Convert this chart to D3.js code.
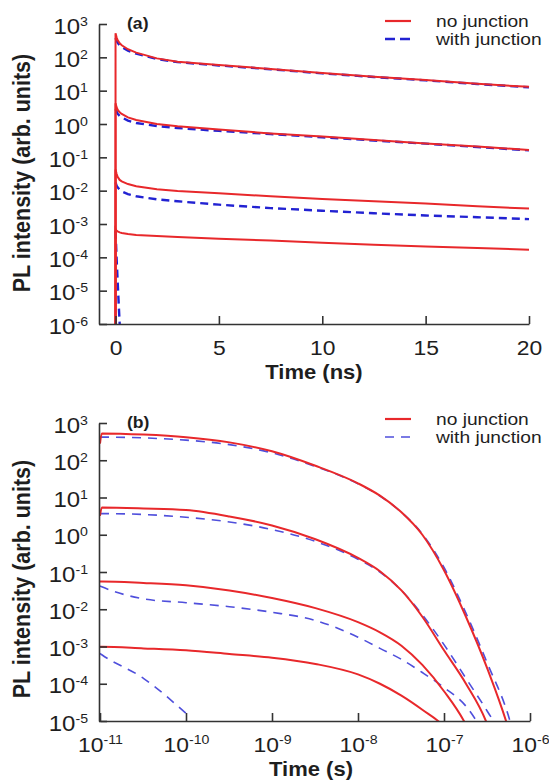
<!DOCTYPE html>
<html>
<head>
<meta charset="utf-8">
<script src="https://cdn.jsdelivr.net/npm/d3@7"></script>
<style>
  body { margin: 0; background: #fff; }
  svg { display: block; font-family: "Liberation Sans", Arial, sans-serif; }
</style>
</head>
<body>
<div id="chart"></div>
<script>
const width = 549;
const height = 783;

// panel (a): time in ns, linear axis
const timesA = [0, 0, 0.05, 0.1, 0.2, 0.3, 0.6, 1, 2, 3, 5, 7.5, 10, 12.5, 15, 17.5, 20];
const noJunctionA = [
  [1e-7, 525, 400, 330, 265, 230, 175, 138, 93, 74, 59, 45, 34, 26, 21, 16, 13],
  [1e-7, 4.2, 3.2, 2.7, 2.24, 2.0, 1.58, 1.32, 1.0, 0.85, 0.68, 0.52, 0.42, 0.33, 0.26, 0.21, 0.166],
  [1e-7, 4.3e-2, 3.2e-2, 2.6e-2, 2.1e-2, 1.9e-2, 1.58e-2, 1.35e-2, 1.1e-2, 9.8e-3, 8.3e-3, 6.8e-3, 5.6e-3, 4.8e-3, 4.1e-3, 3.4e-3, 2.9e-3],
  [1e-7, 7.1e-4, 6.3e-4, 6.0e-4, 5.6e-4, 5.4e-4, 5.0e-4, 4.7e-4, 4.4e-4, 4.1e-4, 3.6e-4, 3.2e-4, 2.75e-4, 2.4e-4, 2.1e-4, 1.9e-4, 1.7e-4]
];
const withJunctionA = [
  [null, 380, 316, 275, 229, 204, 158, 129, 89, 72, 57, 44, 33, 25.7, 20.4, 15.8, 12.6],
  [null, 2.8, 2.35, 2.04, 1.74, 1.58, 1.26, 1.07, 0.87, 0.76, 0.62, 0.5, 0.4, 0.32, 0.257, 0.204, 0.162],
  [null, 1.78e-2, 1.41e-2, 1.26e-2, 1.07e-2, 9.5e-3, 7.9e-3, 6.8e-3, 5.5e-3, 4.8e-3, 3.8e-3, 3.0e-3, 2.5e-3, 2.1e-3, 1.8e-3, 1.6e-3, 1.4e-3],
  [null, 6.3e-4, 1e-4, 2e-5, 1e-6, 1e-7, null, null, null, null, null, null, null, null, null, null, null]
];

// panel (b): time in s, log axis
const timesB = [1e-11, 1.05e-11, 3.2e-11, 1e-10, 3.2e-10, 1e-9, 3.2e-9, 1e-8, 1.8e-8, 3.2e-8, 5.6e-8, 1e-7, 1.8e-7, 3.2e-7, 5.6e-7, 1e-6];
const noJunctionB = [
  [280, 525, 490, 417, 302, 174, 71, 24, 11.2, 4.0, 1.0, 0.112, 6.3e-3, 2.5e-4, 6.3e-6, 3.2e-8],
  [3.2, 5.4, 5.1, 4.6, 3.1, 1.78, 0.76, 0.24, 0.105, 0.032, 6.3e-3, 7.9e-4, 1e-4, 7.9e-6, 1e-7, null],
  [0.056, 0.056, 0.051, 0.044, 0.032, 0.02, 0.0107, 4.5e-3, 2.4e-3, 1.05e-3, 3.2e-4, 6.3e-5, 7.9e-6, 3.2e-7, null, null],
  [9.8e-4, 9.8e-4, 8.9e-4, 7.9e-4, 6.3e-4, 5.0e-4, 3.4e-4, 1.78e-4, 1.0e-4, 4.8e-5, 2.0e-5, 7.1e-6, 1e-6, null, null, null]
];
const withJunctionB = [
  [417, 417, 398, 347, 263, 158, 68, 23.4, 11, 4.0, 1.05, 0.132, 7.9e-3, 3.5e-4, 1.4e-5, 6.3e-8],
  [3.7, 3.7, 3.5, 2.95, 2.2, 1.38, 0.66, 0.22, 0.1, 0.032, 7.1e-3, 1.12e-3, 1.4e-4, 1.8e-5, 2e-6, 3.2e-8],
  [0.042, 0.040, 0.019, 0.015, 0.0117, 8.3e-3, 5.0e-3, 1.78e-3, 8.9e-4, 4.5e-4, 2.0e-4, 7.9e-5, 2.5e-5, 3.2e-6, null, null],
  [6.5e-4, 6.0e-4, 1.4e-4, 1.6e-5, null, null, null, null, null, null, null, null, null, null, null, null]
];

// axis ticks and labels
const xTicksA = [0, 5, 10, 15, 20];
const yExpA = [3, 2, 1, 0, -1, -2, -3, -4, -5, -6];
const xExpB = [-11, -10, -9, -8, -7, -6];
const yExpB = [3, 2, 1, 0, -1, -2, -3, -4, -5];
const legendLabels = ["no junction", "with junction"];
const panelLabels = ["(a)", "(b)"];
const xTitles = ["Time (ns)", "Time (s)"];
const yTitle = "PL intensity (arb. units)";

const axisColor = "#333";
const textColor = "#1e1e1e";
const red = "#e8282b";
const stretch = "scale(1.09,1)";

const svg = d3.select("#chart").append("svg")
  .attr("width", width)
  .attr("height", height);

function power(sel, exp, supDy) {
  sel.text(null);
  sel.append("tspan").text("10");
  sel.append("tspan").attr("dy", supDy).attr("font-size", 13).text(exp);
}

function styleAxis(g) {
  g.attr("font-family", null).attr("font-size", null);
  g.select(".domain").attr("stroke", axisColor).attr("stroke-width", 1.6);
  g.selectAll(".tick line").attr("stroke", axisColor).attr("stroke-width", 1.6);
  g.selectAll(".tick text").attr("x", null).attr("y", null).attr("dy", null)
    .attr("fill", textColor);
}

function drawLines(g, x, y, times, series, color, lw, dash, curve, clipId) {
  const line = d3.line()
    .defined((d) => d[1] != null)
    .x((d) => x(d[0]))
    .y((d) => y(d[1]))
    .curve(curve);
  g.append("g")
    .attr("clip-path", `url(#${clipId})`)
    .selectAll("path")
    .data(series)
    .join("path")
    .attr("d", (s) => line(s.map((v, i) => [times[i], v])))
    .attr("fill", "none")
    .attr("stroke", color)
    .attr("stroke-width", lw)
    .attr("stroke-dasharray", dash);
}

function legend(lx, ly, textY, blue, blueW, blueDash) {
  const g = svg.append("g");
  g.append("line").attr("x1", lx).attr("x2", lx + 26).attr("y1", ly[0]).attr("y2", ly[0])
    .attr("stroke", red).attr("stroke-width", 2.2);
  g.append("line").attr("x1", lx).attr("x2", lx + 26).attr("y1", ly[1]).attr("y2", ly[1])
    .attr("stroke", blue).attr("stroke-width", blueW).attr("stroke-dasharray", blueDash);
  g.selectAll("text").data(legendLabels).join("text")
    .attr("transform", (d, i) => `translate(${lx + 51},${textY[i]}) scale(1.2,1)`)
    .attr("font-size", 16)
    .attr("fill", textColor)
    .text((d) => d);
}

function panel(p) {
  const g = svg.append("g");
  const [y0, y1] = p.y.range();
  const clipId = "clip" + p.idx;
  svg.append("clipPath").attr("id", clipId)
    .append("rect")
    .attr("x", 99).attr("y", y1 - 12)
    .attr("width", 433).attr("height", y0 - y1 + 12);

  // curves
  drawLines(g, p.x, p.y, p.times, p.withJ, p.blue, p.blueW, p.blueDash, p.curve, clipId);
  drawLines(g, p.x, p.y, p.times, p.noJ, red, 2, null, p.curve, clipId);

  // y axis, ticks pointing inward
  const gy = g.append("g")
    .attr("transform", "translate(99,0)")
    .call(d3.axisLeft(p.y).tickValues(p.yExp.map((e) => Math.pow(10, e)))
      .tickSizeInner(-8).tickSizeOuter(0));
  styleAxis(gy);
  gy.selectAll(".tick text")
    .attr("font-size", 22)
    .attr("text-anchor", "end")
    .attr("transform", "translate(-11,9) " + stretch)
    .each(function (d, i) { power(d3.select(this), String(p.yExp[i]), -8); });

  // x axis
  const gx = g.append("g")
    .attr("transform", `translate(0,${y0})`)
    .call(d3.axisBottom(p.x).tickValues(p.xTicks).tickSizeInner(-8).tickSizeOuter(0));
  styleAxis(gx);
  gx.selectAll(".tick text")
    .attr("font-size", 21)
    .attr("text-anchor", "middle")
    .attr("transform", "translate(0,31) " + stretch);
  if (p.xExp) {
    gx.selectAll(".tick text")
      .each(function (d, i) { power(d3.select(this), String(p.xExp[i]), -8); });
  }

  // titles
  g.append("text")
    .attr("transform", `translate(${p.xTitleX},${y0 + 55}) scale(1.1,1)`)
    .attr("text-anchor", "middle")
    .attr("font-size", 20)
    .attr("font-weight", "bold")
    .attr("fill", textColor)
    .text(xTitles[p.idx]);
  g.append("text")
    .attr("transform", `translate(30,${p.yTitleY}) rotate(-90) scale(1,1.1)`)
    .attr("text-anchor", "middle")
    .attr("font-size", 21.5)
    .attr("font-weight", "bold")
    .attr("fill", textColor)
    .text(yTitle);
  g.append("text")
    .attr("transform", `translate(127,${y1 + 5}) scale(1.1,1)`)
    .attr("font-size", 16)
    .attr("font-weight", "bold")
    .attr("fill", textColor)
    .text(panelLabels[p.idx]);
}

const xA = d3.scaleLinear().domain([-0.8, 20]).range([99, 529]);
const yA = d3.scaleLog().domain([1e-6, 1e3]).range([324, 24]);
const xB = d3.scaleLog().domain([1e-11, 1e-6]).range([100, 530]);
const yB = d3.scaleLog().domain([1e-5, 1e3]).range([721, 423]);

panel({
  idx: 0, x: xA, y: yA, times: timesA, noJ: noJunctionA, withJ: withJunctionA,
  xTicks: xTicksA, yExp: yExpA, curve: d3.curveLinear,
  blue: "#2222d2", blueW: 2.4, blueDash: "8,5",
  xTitleX: 314, yTitleY: 173
});
legend(385, [21, 39], [27, 45], "#2222d2", 2.6, "10,5");

panel({
  idx: 1, x: xB, y: yB, times: timesB, noJ: noJunctionB, withJ: withJunctionB,
  xTicks: xExpB.map((e) => Math.pow(10, e)), xExp: xExpB, yExp: yExpB,
  curve: d3.curveMonotoneX,
  blue: "#4f4fdc", blueW: 1.6, blueDash: "9,7",
  xTitleX: 311, yTitleY: 579
});
legend(385, [419, 437], [425, 443], "#4f4fdc", 1.6, "9,7");
</script>
</body>
</html>
